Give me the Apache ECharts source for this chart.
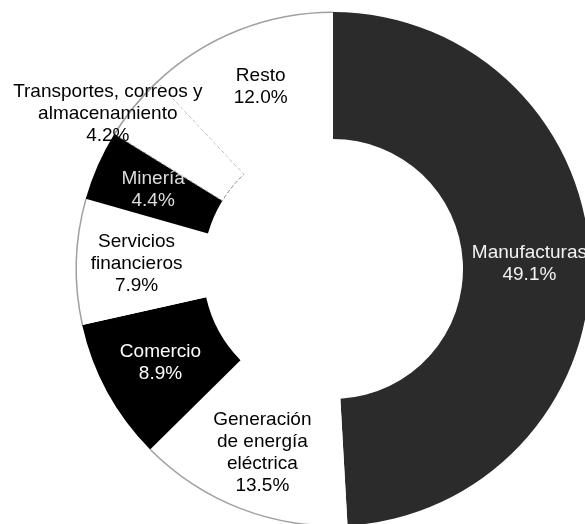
<!DOCTYPE html>
<html>
<head>
<meta charset="utf-8">
<script src="https://cdn.jsdelivr.net/npm/echarts@6/dist/echarts.min.js"></script>
<style>
html,body{margin:0;padding:0;background:#fff;}
#chart{width:585px;height:524px;}
</style>
</head>
<body>
<div id="chart"></div>
<script>
var categories = [
  "Manufacturas",
  "Generación\nde energía\neléctrica",
  "Comercio",
  "Servicios\nfinancieros",
  "Minería",
  "Transportes, correos y\nalmacenamiento",
  "Resto"
];
var shares = [49.1, 13.5, 8.9, 7.9, 4.4, 4.2, 12.0];

var fills = ["#2b2b2b", "#ffffff", "#000000", "#ffffff", "#000000", "#ffffff", "#ffffff"];
var textColors = ["#f2f2f2", "#000000", "#ffffff", "#000000", "#dddddd", "#000000", "#000000"];

var data = categories.map(function (name, i) {
  var item = {
    name: name,
    value: shares[i],
    itemStyle: {
      color: fills[i],
      borderColor: "#8a8a8a",
      borderWidth: i === 5 ? 1 : 0,
      borderType: "dashed"
    },
    label: { color: textColors[i] }
  };
  if (i === 5) { item.label.offset = [-73, -31]; }
  return item;
});

var rimData = categories.map(function (name, i) {
  var white = fills[i] === "#ffffff";
  return {
    name: name,
    value: shares[i],
    itemStyle: { color: white ? "#a0a0a0" : "rgba(0,0,0,0)" }
  };
});

var chart = echarts.init(document.getElementById("chart"), null, { renderer: "canvas" });
chart.setOption({
  backgroundColor: "#ffffff",
  animation: false,
  series: [{
    type: "pie",
    center: [333, 269],
    radius: [130, 257],
    startAngle: 90,
    clockwise: true,
    avoidLabelOverlap: false,
    emphasis: { disabled: true },
    label: {
      show: true,
      position: "inside",
      fontFamily: "Liberation Sans, Arial, sans-serif",
      fontSize: 19,
      lineHeight: 22,
      align: "center",
      formatter: function (p) { return p.name + "\n" + p.value.toFixed(1) + "%"; }
    },
    labelLine: { show: false },
    data: data
  }, {
    type: "pie",
    silent: true,
    center: [333, 269],
    radius: [256, 257.5],
    startAngle: 90,
    clockwise: true,
    emphasis: { disabled: true },
    label: { show: false },
    labelLine: { show: false },
    itemStyle: { borderWidth: 0 },
    data: rimData
  }]
});
</script>
</body>
</html>
